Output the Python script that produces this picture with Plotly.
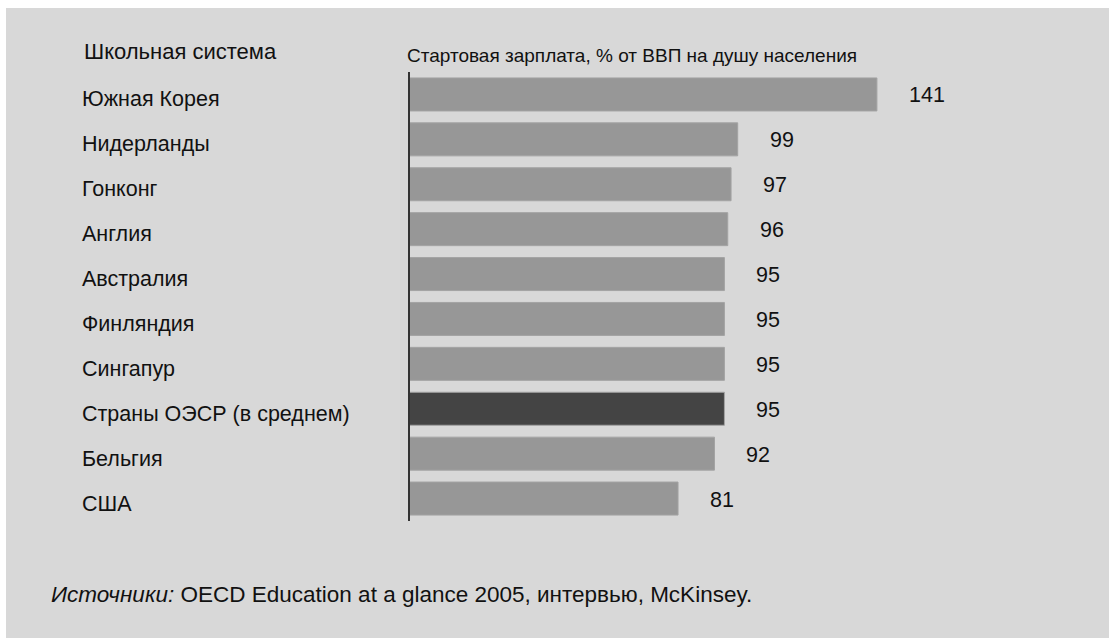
import plotly.graph_objects as go

categories = ["Южная Корея", "Нидерланды", "Гонконг", "Англия", "Австралия",
              "Финляндия", "Сингапур", "Страны ОЭСР (в среднем)", "Бельгия", "США"]
values = [141, 99, 97, 96, 95, 95, 95, 95, 92, 81]
highlight = "Страны ОЭСР (в среднем)"

header_left = "Школьная система"
header_right = "Стартовая зарплата, % от ВВП на душу населения"
source_text = "<i>Источники:</i> OECD Education at a glance 2005, интервью, McKinsey."

W, H = 1109, 638
BG = "#d8d8d8"
BAR = "#979797"
DARK = "#444444"
FONT = "Liberation Sans, Arial, sans-serif"
TXT = "#111111"

colors = [DARK if c == highlight else BAR for c in categories]

fig = go.Figure()
fig.add_trace(go.Bar(
    x=values, y=categories, orientation="h",
    marker=dict(color=colors, line=dict(color="#a3a3a3", width=1)),
    width=0.735, hoverinfo="skip",
))

x0 = 409.5
fig.update_layout(
    width=W, height=H,
    margin=dict(l=0, r=0, t=0, b=0),
    paper_bgcolor="white", plot_bgcolor="rgba(0,0,0,0)",
    showlegend=False,
    font=dict(family=FONT, color=TXT),
    xaxis=dict(domain=[x0 / W, 1], range=[0, (W - x0) / 3.315],
               visible=False, fixedrange=True),
    yaxis=dict(domain=[1 - 521 / H, 1 - 72 / H], autorange="reversed",
               showticklabels=False, ticks="", showgrid=False, zeroline=False,
               showline=True, linecolor="#333333", linewidth=2, fixedrange=True),
    shapes=[dict(type="rect", xref="paper", yref="paper",
                 x0=6 / W, x1=1, y0=0, y1=1 - 8 / H,
                 fillcolor=BG, line=dict(width=0), layer="below")],
)

ann = []
for c, v in zip(categories, values):
    ann.append(dict(x=80 / W, xref="paper", y=c, yref="y", text=c,
                    xanchor="left", yanchor="middle", showarrow=False,
                    yshift=-5, font=dict(size=21.5, family=FONT, color=TXT)))
    ann.append(dict(x=v, xref="x", y=c, yref="y", text=str(v),
                    xanchor="left", yanchor="middle", showarrow=False,
                    xshift=30, yshift=-1, font=dict(size=21.5, family=FONT, color=TXT)))

ann.append(dict(x=82 / W, xref="paper", y=1 - 51 / H, yref="paper", text=header_left,
                xanchor="left", yanchor="middle", showarrow=False,
                font=dict(size=22, family=FONT, color=TXT)))
ann.append(dict(x=405 / W, xref="paper", y=1 - 55 / H, yref="paper", text=header_right,
                xanchor="left", yanchor="middle", showarrow=False,
                font=dict(size=19, family=FONT, color=TXT)))
ann.append(dict(x=49 / W, xref="paper", y=1 - 594 / H, yref="paper", text=source_text,
                xanchor="left", yanchor="middle", showarrow=False,
                font=dict(size=22.5, family=FONT, color=TXT)))
fig.update_layout(annotations=ann)

fig.write_html(
    "out.html",
    config={"displayModeBar": False},
    post_script="document.body.style.margin='0';document.body.style.overflow='hidden';",
)
